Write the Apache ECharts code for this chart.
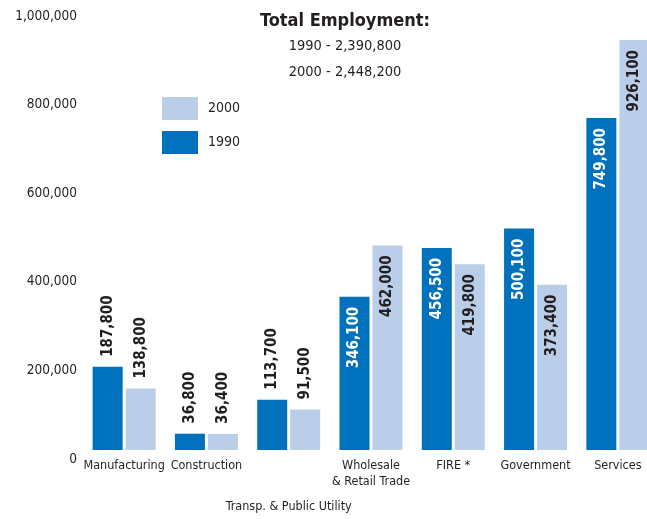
<!DOCTYPE html>
<html>
<head>
<meta charset="utf-8">
<script src="https://cdn.jsdelivr.net/npm/echarts@6/dist/echarts.min.js"></script>
<style>
html,body{margin:0;padding:0;background:#fff;}
#chart{width:647px;height:519px;}
</style>
</head>
<body>
<div id="chart"></div>
<script>
const categories = ['Manufacturing','Construction','Transp. & Public Utility','Wholesale & Retail Trade','FIRE *','Government','Services'];
const tickLabels = ['Manufacturing','Construction','\n{t|Transp. & Public Utility}','Wholesale\n& Retail Trade','FIRE *','Government','Services'];
const values1990 = [187800, 36800, 113700, 346100, 456500, 500100, 749800];
const values2000 = [138800, 36400, 91500, 462000, 419800, 373400, 926100];
const yTicks = [0, 200000, 400000, 600000, 800000, 1000000];
const titleText = 'Total Employment:';
const totalsText = ['1990 - 2,390,800', '2000 - 2,448,200'];

const FONT = '"DejaVu Sans Condensed", "Liberation Sans Narrow", "Arial Narrow", sans-serif';
const DARK = '#0071bc';
const LIGHT = '#bacde9';
const INK = '#231f20';

function fmt(v){ return v.toLocaleString('en-US'); }

function buildData(vals, insideColor){
  return vals.map(v => {
    const inside = v > 300000;
    return {
      value: v,
      label: inside ? {
        position: 'insideTop', distance: 10, rotate: 90, align: 'right', verticalAlign: 'middle',
        color: insideColor
      } : {
        position: 'top', distance: 10, rotate: 90, align: 'left', verticalAlign: 'middle',
        color: INK
      }
    };
  });
}

const chart = echarts.init(document.getElementById('chart'), null, {renderer:'canvas'});
chart.setOption({
  animation: false,
  textStyle: {fontFamily: FONT},
  title: {
    text: titleText,
    subtext: totalsText.join('\n'),
    left: 345, textAlign: 'center', top: 12, itemGap: 3, padding: 0,
    textStyle: {fontFamily: FONT, fontSize: 18, fontWeight: 'bold', color: INK},
    subtextStyle: {fontFamily: FONT, fontSize: 14.5, color: INK, lineHeight: 26}
  },
  legend: {
    data: ['2000','1990'],
    orient: 'vertical', left: 162, top: 97, padding: 0,
    itemWidth: 36, itemHeight: 23, itemGap: 11,
    icon: 'rect',
    textStyle: {fontFamily: FONT, fontSize: 14, color: INK, padding: [0,0,0,5]}
  },
  grid: {left: 83, top: 7.3, width: 576, bottom: 69, containLabel: false, outerBoundsMode: 'none'},
  xAxis: {
    type: 'category',
    data: categories,
    axisLine: {show: false},
    axisTick: {show: false},
    axisLabel: {
      interval: 0, margin: 8, fontSize: 12.5, color: INK, fontFamily: FONT,
      verticalAlign: 'top', lineHeight: 16,
      formatter: (v, i) => tickLabels[i],
      rich: {t: {fontSize: 12.5, fontFamily: FONT, color: INK, lineHeight: 66}}
    }
  },
  yAxis: {
    type: 'value', min: 0, max: 1000000, interval: 200000,
    splitLine: {show: false},
    axisLine: {show: false},
    axisTick: {show: false},
    axisLabel: {
      margin: 6, fontSize: 13.5, color: INK, fontFamily: FONT, verticalAlign: 'top', padding: [2,0,0,0],
      formatter: v => yTicks.includes(v) ? fmt(v) : ''
    }
  },
  series: [
    {
      name: '1990', type: 'bar', barWidth: 30, barGap: '10%',
      itemStyle: {color: DARK},
      label: {show: true, formatter: p => fmt(p.value), fontSize: 15, fontWeight: 'bold', fontFamily: FONT},
      data: buildData(values1990, '#ffffff')
    },
    {
      name: '2000', type: 'bar', barWidth: 30, barGap: '10%',
      itemStyle: {color: LIGHT},
      label: {show: true, formatter: p => fmt(p.value), fontSize: 15, fontWeight: 'bold', fontFamily: FONT},
      data: buildData(values2000, INK)
    }
  ]
});
</script>
</body>
</html>
